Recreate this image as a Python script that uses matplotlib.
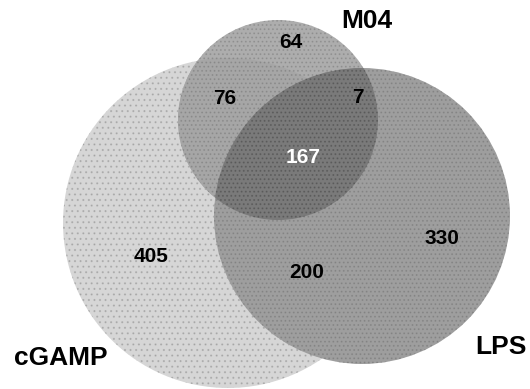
import matplotlib.pyplot as plt
from matplotlib.patches import Circle

plt.rcParams['font.family'] = ['Liberation Sans', 'DejaVu Sans']
plt.rcParams['hatch.linewidth'] = 0.8

# set names and region counts
set_names = ["cGAMP", "M04", "LPS"]
region_labels = ["405", "64", "330", "76", "200", "7", "167"]
# regions: cGAMP only, M04 only, LPS only, cGAMP&M04, cGAMP&LPS, M04&LPS, all
region_colors = ["black", "black", "black", "black", "black", "black", "white"]

fig = plt.figure(figsize=(5.30, 3.89), dpi=100)
ax = fig.add_axes([0, 0, 1, 1])
ax.set_xlim(0, 530)
ax.set_ylim(389, 0)
ax.set_aspect('equal')
ax.axis('off')

# circle geometry (pixels): cGAMP, M04, LPS
cg_c, cg_r = (228, 223), 165
m_c, m_r = (278, 120), 100
l_c, l_r = (362, 216), 148

ax.add_patch(Circle(cg_c, cg_r, facecolor='0.84', edgecolor='none', lw=0))
ax.add_patch(Circle(cg_c, cg_r, facecolor='none', edgecolor=(0.2, 0.2, 0.2, 0.18), lw=0, hatch='...'))
ax.add_patch(Circle(m_c, m_r, facecolor='0.68', edgecolor='none', lw=0))

# cGAMP & M04 overlap slightly darker
cm = Circle(m_c, m_r, facecolor='0.65', edgecolor='none', lw=0)
ax.add_patch(cm)
cm.set_clip_path(Circle(cg_c, cg_r, transform=ax.transData))

ax.add_patch(Circle(l_c, l_r, facecolor='0.62', edgecolor='none', lw=0))

# M04 & LPS overlap
ml = Circle(m_c, m_r, facecolor='0.48', edgecolor='none', lw=0)
ax.add_patch(ml)
ml.set_clip_path(Circle(l_c, l_r, transform=ax.transData))

# halftone-like texture
for (c, r, h) in [(m_c, m_r, '....'), (l_c, l_r, '....')]:
    ax.add_patch(Circle(c, r, facecolor='none', edgecolor=(0.2, 0.2, 0.2, 0.18), lw=0, hatch=h))

region_pos = [(151, 256), (291, 42), (442, 238), (225, 98), (307, 273), (358, 97), (303, 157)]
for (x, y), lab, col in zip(region_pos, region_labels, region_colors):
    ax.text(x, y, lab, ha='center', va='center', fontsize=15, fontweight='bold', color=col)

name_pos = [(61, 358), (367, 21), (501, 347)]
for (x, y), name in zip(name_pos, set_names):
    ax.text(x, y, name, ha='center', va='center', fontsize=19, fontweight='bold', color='black')

fig.savefig("out.png", dpi=100)
